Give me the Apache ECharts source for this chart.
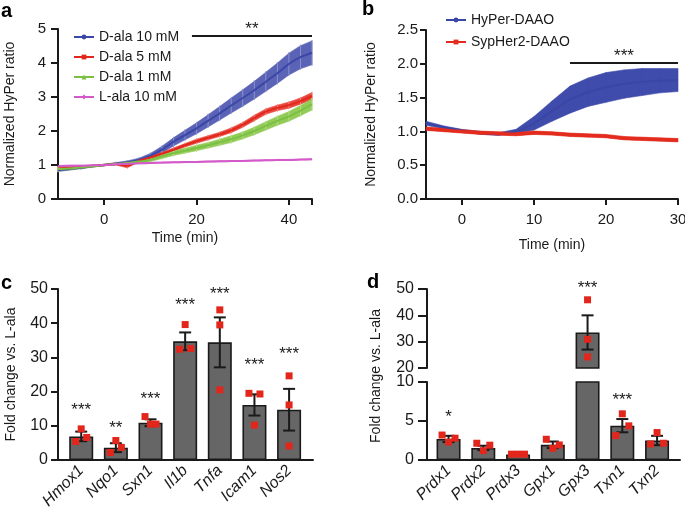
<!DOCTYPE html>
<html><head><meta charset="utf-8">
<script src="https://cdn.jsdelivr.net/npm/echarts/dist/echarts.min.js"></script>
<style>html,body{margin:0;padding:0;background:#fff}#c{width:685px;height:509px}</style>
</head><body><div id="c"></div>
<script>
// ---------- Panel a data ----------
const TIME_A = [-10,-7.5,-5,-2.5,0,2.5,5,7.5,10,12.5,15,17.5,20,22.5,25,27.5,30,32.5,35,37.5,40,42.5,45];
const D10_MEAN = [0.85,0.88,0.92,0.96,1.0,1.04,1.08,1.15,1.27,1.45,1.68,1.88,2.08,2.3,2.52,2.75,2.97,3.2,3.45,3.7,3.97,4.17,4.3];
const D10_ERR  = [0.04,0.03,0.03,0.02,0.02,0.03,0.04,0.05,0.07,0.1,0.12,0.14,0.16,0.18,0.2,0.22,0.24,0.26,0.28,0.3,0.32,0.34,0.35];
const D5_MEAN  = [0.9,0.92,0.95,0.97,1.0,1.03,0.98,1.12,1.22,1.33,1.45,1.58,1.7,1.8,1.9,2.02,2.18,2.38,2.57,2.68,2.76,2.88,3.03];
const D5_ERR   = [0.03,0.03,0.02,0.02,0.02,0.03,0.06,0.03,0.04,0.04,0.05,0.05,0.06,0.06,0.06,0.07,0.07,0.08,0.08,0.08,0.09,0.09,0.1];
const D1_MEAN  = [0.88,0.9,0.93,0.96,1.0,1.03,1.06,1.1,1.15,1.25,1.35,1.42,1.5,1.58,1.67,1.76,1.87,2.0,2.15,2.3,2.43,2.6,2.78];
const D1_ERR   = [0.05,0.04,0.03,0.02,0.02,0.02,0.03,0.04,0.05,0.06,0.07,0.07,0.08,0.08,0.09,0.1,0.1,0.11,0.12,0.13,0.14,0.15,0.16];
const L10_MEAN = [0.97,0.98,0.98,0.99,1.0,1.02,1.04,1.05,1.06,1.07,1.08,1.085,1.09,1.1,1.11,1.115,1.12,1.13,1.14,1.15,1.15,1.16,1.17];
const L10_ERR  = [0.015,0.015,0.015,0.015,0.015,0.015,0.015,0.015,0.015,0.015,0.015,0.015,0.015,0.015,0.015,0.015,0.015,0.015,0.015,0.015,0.015,0.015,0.015];
const NAMES_A = ['D-ala 10 mM','D-ala 5 mM','D-ala 1 mM','L-ala 10 mM'];
const SIG_A = [19, 45, 4.8, '**'];

// ---------- Panel b data ----------
const TIME_B = [-5,-2.5,0,2.5,5,7.5,10,12.5,15,17.5,20,22.5,25,27.5,30];
const HYP_MEAN = [1.12,1.06,1.01,0.98,0.96,1.0,1.12,1.3,1.47,1.58,1.65,1.7,1.73,1.75,1.76];
const HYP_ERR  = [0.03,0.02,0.02,0.02,0.02,0.03,0.1,0.15,0.2,0.21,0.22,0.21,0.2,0.18,0.17];
const SYP_MEAN = [1.04,1.02,1.0,0.98,0.97,0.96,0.98,0.97,0.95,0.94,0.93,0.9,0.89,0.88,0.87];
const SYP_ERR  = [0.025,0.025,0.025,0.025,0.025,0.025,0.025,0.025,0.025,0.025,0.025,0.025,0.025,0.025,0.025];
const NAMES_B = ['HyPer-DAAO','SypHer2-DAAO'];
const SIG_B = [15, 30, 2.02, '***'];

// ---------- Panel c data ----------
const C_GENES = ['Hmox1','Nqo1','Sxn1','Il1b','Tnfa','Icam1','Nos2'];
const C_MEAN  = [6.9, 3.6, 10.9, 34.7, 34.4, 16.1, 14.7];
const C_SEM   = [1.4, 1.3, 1.0, 2.6, 7.3, 3.1, 6.1];
const C_PTS   = [[5.4,9.1,6.6],[2.2,5.7,3.7],[12.7,10.5,10.5],[32.4,39.6,32.6],[43.9,39.5,20.5],[19.5,10.2,19.3],[24.6,16.1,4.1]];
const C_JIT   = [[-1,0,1],[-1,0,1],[-1,0,1],[-1,0,1],[0,0,0],[-1,0,1],[0,0,0]];
const C_STAR  = ['***','**','***','***','***','***','***'];
const C_STAR_Y= [15.6, 10.3, 19.0, 46.4, 49.6, 28.8, 32.0];

// ---------- Panel d data ----------
const D_GENES = ['Prdx1','Prdx2','Prdx3','Gpx1','Gpx3','Txn1','Txn2'];
const D_MEAN  = [2.7, 1.55, 0.7, 1.95, 33.5, 4.4, 2.5];
const D_SEM   = [0.4, 0.28, 0.05, 0.42, 6.5, 0.85, 0.6];
const D_PTS   = [[3.2,2.3,2.8],[2.15,1.2,1.9],[0.75,0.75,0.75],[2.66,1.5,1.93],[45.9,30.9,24.2],[3.13,5.92,4.38],[2.06,3.52,2.15]];
const D_JIT   = [[-1,0,1],[-1,0,1],[-1,0,1],[-1,0,1],[0,0,0],[-1,0,1],[-1,0,1]];
const D_STAR  = ['*','','','','***','***',''];
const D_STAR_Y= [6.0,null,null,null,51.7,8.15,null];

// ---------- styling ----------
const FONT = '"Liberation Sans", Arial, Helvetica, sans-serif';
const INK = '#1a1a1a';
const BLUE='#3b47a6', RED='#e2281d', GREEN='#7bc043', PINK='#d45ac9';

function bandSeries(xi, yi, times, mean, err, fill, hatch){
  const data = times.map((t,i)=>[t, mean[i]-err[i], mean[i]+err[i]]);
  return {type:'custom', xAxisIndex:xi, yAxisIndex:yi, data, encode:{x:0,y:[1,2]}, silent:true, z:2,
    renderItem(params, api){
      const i = params.dataIndex, a = data[i];
      const children = [];
      if (i < data.length-1){
        const b = data[i+1];
        children.push({type:'polygon', shape:{points:[api.coord([a[0],a[2]]),api.coord([b[0],b[2]]),api.coord([b[0],b[1]]),api.coord([a[0],a[1]])]},
          style:{fill:fill, stroke:fill, lineWidth:0.6}});
      }
      if (hatch){
        const p1 = api.coord([a[0],a[1]]), p2 = api.coord([a[0],a[2]]);
        children.push({type:'line', shape:{x1:p1[0],y1:p1[1]+1,x2:p2[0],y2:p2[1]-1}, style:{stroke:hatch, lineWidth:1}});
      }
      return {type:'group', children};
    }};
}
function lineSeries(name, xi, yi, times, mean, color, symbol, width, extra){
  return Object.assign({type:'line', name, xAxisIndex:xi, yAxisIndex:yi, data:times.map((t,i)=>[t,mean[i]]),
    showSymbol:false, symbol, symbolSize:5, smooth:0.25, lineStyle:{color, width}, itemStyle:{color}, z:3, silent:true}, extra||{});
}
function sigMark(sig){
  return {silent:true, symbol:['none','none'], animation:false,
    lineStyle:{color:INK, width:2, type:'solid'},
    label:{show:true, position:'middle', formatter:sig[3], fontSize:17, color:INK, fontFamily:FONT, distance:-2},
    emphasis:{disabled:true},
    data:[[{coord:[sig[0],sig[2]]},{coord:[sig[1],sig[2]]}]]};
}
function errSeries(xi, yi, idx, means, sems){
  const data = idx.map(i=>[i, means[i], sems[i]]);
  return {type:'custom', xAxisIndex:xi, yAxisIndex:yi, data, z:4, silent:true,
    renderItem(params, api){
      const x=api.value(0), m=api.value(1), e=api.value(2);
      const t=api.coord([x,m+e]), b=api.coord([x,m-e]); const w=6;
      const st={stroke:INK, lineWidth:2};
      return {type:'group', children:[
        {type:'line', shape:{x1:t[0],y1:t[1],x2:b[0],y2:b[1]}, style:st},
        {type:'line', shape:{x1:t[0]-w,y1:t[1],x2:t[0]+w,y2:t[1]}, style:st},
        {type:'line', shape:{x1:b[0]-w,y1:b[1],x2:b[0]+w,y2:b[1]}, style:st}]};
    }};
}
function ptSeries(xi, yi, pts, jit, jpx, filter){
  const data=[];
  pts.forEach((arr,i)=>arr.forEach((v,k)=>{ if(filter(v)) data.push([i, v, jit[i][k]]); }));
  return {type:'custom', xAxisIndex:xi, yAxisIndex:yi, data, z:5, silent:true,
    renderItem(params, api){
      const p=api.coord([api.value(0), api.value(1)]); const s=7;
      return {type:'rect', shape:{x:p[0]+api.value(2)*jpx-s/2, y:p[1]-s/2, width:s, height:s}, style:{fill:'#e2261c'}};
    }};
}
function starSeries(xi, yi, labels, ys){
  const data=[];
  labels.forEach((l,i)=>{ if(l) data.push([i, ys[i], l]); });
  return {type:'custom', xAxisIndex:xi, yAxisIndex:yi, data, z:6, silent:true, clip:false,
    dimensions:['x','y',{name:'t',type:'ordinal'}],
    renderItem(params, api){
      const d=data[params.dataIndex]; const p=api.coord([d[0], d[1]]);
      return {type:'text', style:{text:d[2], x:p[0], y:p[1]+4, align:'center', verticalAlign:'middle', fill:INK, font:'17px '+FONT}};
    }};
}
function barSeries(xi, yi, idx, means){
  return {type:'bar', xAxisIndex:xi, yAxisIndex:yi, data: idx.map(i=>[i, means[i]]), barWidth:24, clip:true, silent:true, z:3,
    itemStyle:{color:'#666666', borderColor:INK, borderWidth:1.6}};
}

function yAx(gi, min, max, interval, fs, margin, tick, name, gap, fmt){
  return {type:'value', gridIndex:gi, min, max, interval,
    axisLine:{show:true, onZero:false, lineStyle:{color:INK, width:2}},
    axisTick:{show:true, inside:false, length:tick, lineStyle:{color:INK, width:2}},
    axisLabel:{show:true, fontSize:fs, color:INK, fontFamily:FONT, margin, formatter:fmt},
    splitLine:{show:false}, name:name||'', nameLocation:'middle', nameGap:gap||0,
    nameTextStyle:{fontSize:14, color:INK, fontFamily:FONT}};
}
function xAxTime(gi, min, max, step, name, gap){
  return {type:'value', gridIndex:gi, min, max, minInterval:step, maxInterval:step,
    axisLine:{show:true, onZero:false, lineStyle:{color:INK, width:2}},
    axisTick:{show:true, length:6, lineStyle:{color:INK, width:2}},
    axisLabel:{show:true, fontSize:15, color:INK, fontFamily:FONT, margin:13, showMinLabel:false,
      formatter:v=> (Math.abs(v-Math.round(v))<1e-6 && Math.round(v)%step===0 && v>=0) ? String(Math.round(v)) : ''},
    splitLine:{show:false}, name, nameLocation:'middle', nameGap:gap,
    nameTextStyle:{fontSize:14, color:INK, fontFamily:FONT}};
}
function xAxCat(gi, min, max, genes, show){
  return {type:'value', gridIndex:gi, min, max, minInterval:1, maxInterval:1, show,
    axisLine:{show:true, onZero:false, lineStyle:{color:INK, width:2}},
    axisTick:{show:false}, splitLine:{show:false},
    axisLabel:{show:true, rotate:45, fontSize:16, fontStyle:'italic', color:INK, fontFamily:FONT, margin:8,
      formatter:v=> (Math.abs(v-Math.round(v))<1e-6 && genes[Math.round(v)]) ? genes[Math.round(v)] : ''}};
}

const option = {
  animation:false, backgroundColor:'#ffffff',
  textStyle:{fontFamily:FONT, color:INK},
  grid:[
    {left:58, top:29, width:254, height:170, containLabel:false, outerBoundsMode:'none'},
    {left:426, top:30, width:252, height:169, containLabel:false, outerBoundsMode:'none'},
    {left:58, top:289, width:255, height:171, containLabel:false, outerBoundsMode:'none'},
    {left:427, top:289, width:253, height:79, containLabel:false, outerBoundsMode:'none'},
    {left:427, top:382, width:253, height:78, containLabel:false, outerBoundsMode:'none'}
  ],
  xAxis:[
    xAxTime(0, -10, 45, 20, 'Time (min)', 32),
    xAxTime(1, -5, 30, 10, 'Time (min)', 39),
    xAxCat(2, -0.67, 6.69, C_GENES, true),
    xAxCat(3, -0.62, 6.66, D_GENES, false),
    xAxCat(4, -0.62, 6.66, D_GENES, true)
  ],
  yAxis:[
    yAx(0, 0, 5, 1, 15, 12, 7, 'Normalized HyPer ratio', 41),
    yAx(1, 0, 2.5, 0.5, 15, 8, 6, 'Normalized HyPer ratio', 48, v=>v.toFixed(1)),
    yAx(2, 0, 50, 10, 16, 10, 7, 'Fold change vs. L-ala', 40),
    yAx(3, 20, 50, 10, 16, 13, 9),
    yAx(4, 0, 10, 5, 16, 13, 9)
  ],
  legend:[
    {left:68, top:25, orient:'vertical', itemGap:6, itemWidth:20, itemHeight:6, selectedMode:false,
      textStyle:{fontSize:14, color:INK, fontFamily:FONT}, data:NAMES_A},
    {left:440, top:8, orient:'vertical', itemGap:8, itemWidth:20, itemHeight:6, selectedMode:false,
      textStyle:{fontSize:14, color:INK, fontFamily:FONT}, data:NAMES_B}
  ],
  graphic:[
    {type:'text', left:1, top:1, style:{text:'a', font:'bold 20px '+FONT, fill:'#000'}},
    {type:'text', left:362, top:-1, style:{text:'b', font:'bold 20px '+FONT, fill:'#000'}},
    {type:'text', left:1, top:273, style:{text:'c', font:'bold 20px '+FONT, fill:'#000'}},
    {type:'text', left:367, top:272, style:{text:'d', font:'bold 20px '+FONT, fill:'#000'}},
    {type:'text', x:376, y:376, rotation:Math.PI/2, style:{text:'Fold change vs. L-ala', font:'14px '+FONT, fill:INK, align:'center', verticalAlign:'middle'}}
  ],
  series:[
    // panel a
    bandSeries(0,0,TIME_A,D10_MEAN,D10_ERR,'#5a63b6','#8a91cc'),
    bandSeries(0,0,TIME_A,D5_MEAN,D5_ERR,'#e8473d','#f08a80'),
    bandSeries(0,0,TIME_A,D1_MEAN,D1_ERR,'#93cb58','#b6dd8c'),
    bandSeries(0,0,TIME_A,L10_MEAN,L10_ERR,'#dc7ed3',null),
    lineSeries(NAMES_A[0],0,0,TIME_A,D10_MEAN,BLUE,'circle',2,{markLine:sigMark(SIG_A)}),
    lineSeries(NAMES_A[1],0,0,TIME_A,D5_MEAN,RED,'rect',2),
    lineSeries(NAMES_A[2],0,0,TIME_A,D1_MEAN,GREEN,'triangle',2),
    lineSeries(NAMES_A[3],0,0,TIME_A,L10_MEAN,PINK,'diamond',2),
    // panel b
    bandSeries(1,1,TIME_B,HYP_MEAN,HYP_ERR,'#3f4cab',null),
    bandSeries(1,1,TIME_B,SYP_MEAN,SYP_ERR,'#e32b1e',null),
    lineSeries(NAMES_B[0],1,1,TIME_B,HYP_MEAN,'#3a46a5','circle',2,{markLine:sigMark(SIG_B)}),
    lineSeries(NAMES_B[1],1,1,TIME_B,SYP_MEAN,'#e32b1e','rect',3),
    // panel c
    barSeries(2,2,[0,1,2,3,4,5,6],C_MEAN),
    errSeries(2,2,[0,1,2,3,4,5,6],C_MEAN,C_SEM),
    ptSeries(2,2,C_PTS,C_JIT,5.5,v=>true),
    starSeries(2,2,C_STAR,C_STAR_Y),
    // panel d upper
    barSeries(3,3,[4],D_MEAN),
    errSeries(3,3,[4],D_MEAN,D_SEM),
    ptSeries(3,3,D_PTS,D_JIT,6.5,v=>v>=20),
    starSeries(3,3,D_STAR.map((s,i)=>D_STAR_Y[i]>=20?s:''),D_STAR_Y),
    // panel d lower
    barSeries(4,4,[0,1,2,3,4,5,6],D_MEAN),
    errSeries(4,4,[0,1,2,3,5,6],D_MEAN,D_SEM),
    ptSeries(4,4,D_PTS,D_JIT,6.5,v=>v<=10),
    starSeries(4,4,D_STAR.map((s,i)=>D_STAR_Y[i]!==null&&D_STAR_Y[i]<20?s:''),D_STAR_Y)
  ]
};
const chart = echarts.init(document.getElementById('c'), null, {renderer:'canvas'});
chart.setOption(option);
</script></body></html>
